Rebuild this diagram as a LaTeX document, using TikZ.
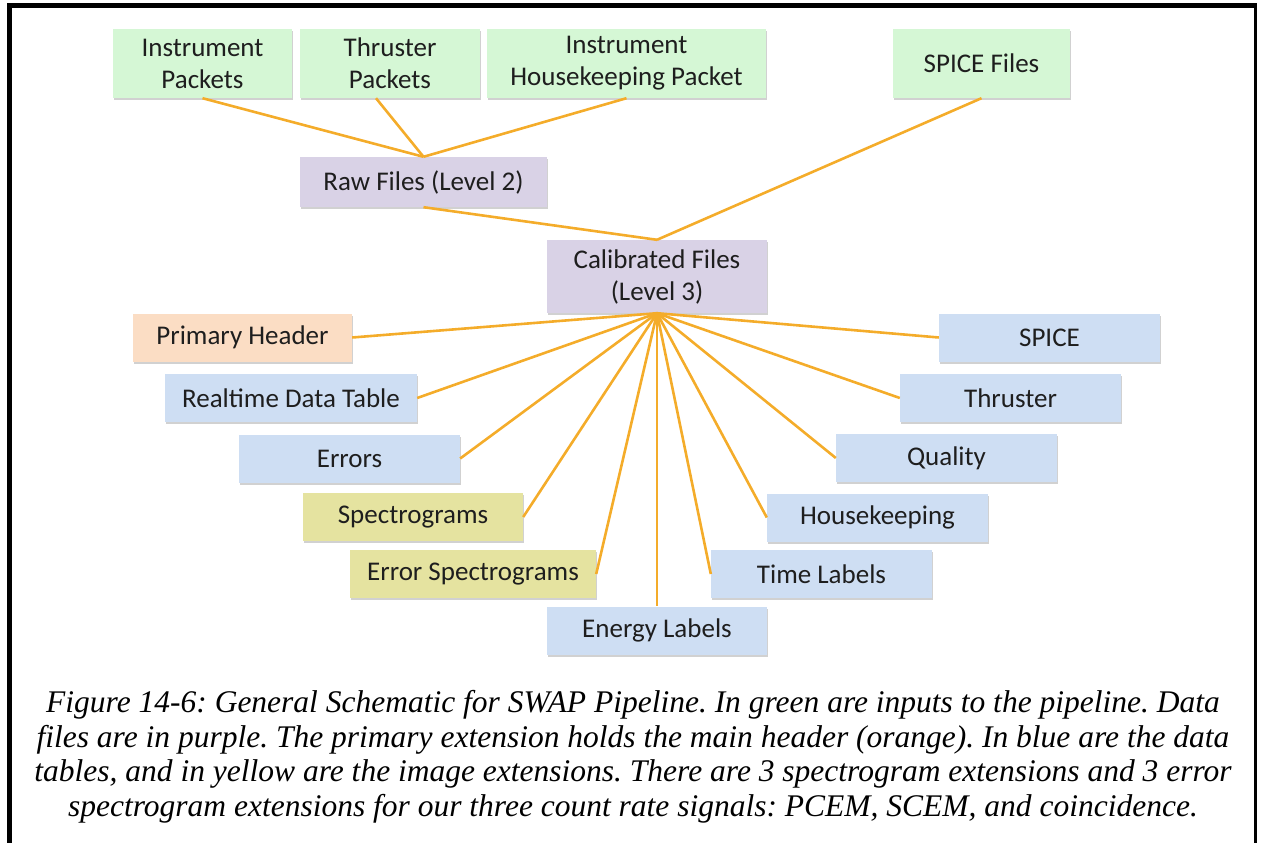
\documentclass[tikz,border=0pt]{standalone}
\usepackage{fontspec}
\setmainfont{Carlito}
\newfontfamily\capfont{Liberation Serif}
\usetikzlibrary{shadows}
\definecolor{gfill}{HTML}{D5F7D5}
\definecolor{pfill}{HTML}{D9D2E6}
\definecolor{ofill}{HTML}{FBDDC4}
\definecolor{bfill}{HTML}{CEDEF3}
\definecolor{yfill}{HTML}{E5E3A0}
\definecolor{conn}{HTML}{F4AC2A}
\definecolor{txt}{HTML}{1E1E1E}
\tikzset{
  box/.style={rectangle, inner sep=0pt, align=center, text=txt,
    font=\fontsize{27}{32}\selectfont, minimum height=48pt,
    drop shadow={shadow xshift=1.2pt, shadow yshift=-2pt, opacity=0.3, fill=black!60}},
  gbox/.style={box, fill=gfill, minimum height=69pt},
  pbox/.style={box, fill=pfill},
  obox/.style={box, fill=ofill},
  bbox/.style={box, fill=bfill},
  ybox/.style={box, fill=yfill},
  link/.style={draw=conn, line width=2.6pt}
}
\begin{document}
\begin{tikzpicture}[x=1pt,y=-1pt]
\useasboundingbox (0,0) rectangle (1262,843);
% frame
\draw[line width=5pt] (9.5,843) -- (9.5,5.5) -- (1257,5.5);
\draw[line width=2.5pt] (1255.5,5) -- (1255.5,843);
% top inputs
\node[gbox, minimum width=179pt] (ip) at (202.5,63.5) {Instrument\\Packets};
\node[gbox, minimum width=180pt] (tp) at (390,63.5) {Thruster\\Packets};
\node[gbox, minimum width=279pt] (ihp) at (626.5,63.5) {Instrument\\Housekeeping Packet};
\node[gbox, minimum width=177pt] (sf) at (981.5,63.5) {SPICE Files};
% data files
\node[pbox, minimum width=247pt, minimum height=50pt] (raw) at (423.5,182) {Raw Files (Level 2)};
\node[pbox, minimum width=220pt, minimum height=73pt] (cal) at (657,276.5) {Calibrated Files\\(Level 3)};
% extensions left
\node[obox, minimum width=219pt] (ph) at (242.5,337.5) {Primary Header};
\node[bbox, minimum width=252pt] (rdt) at (291,398) {Realtime Data Table};
\node[bbox, minimum width=221pt] (err) at (349.5,458.5) {Errors};
\node[ybox, minimum width=220pt] (spec) at (413,517) {Spectrograms};
\node[ybox, minimum width=246pt] (espec) at (473,574) {Error Spectrograms};
\node[bbox, minimum width=220pt] (en) at (657,630.5) {Energy Labels};
% extensions right
\node[bbox, minimum width=221pt] (spice) at (1049.5,337.5) {SPICE};
\node[bbox, minimum width=221pt] (thr) at (1010.5,398) {Thruster};
\node[bbox, minimum width=221pt] (qual) at (946.5,458) {Quality};
\node[bbox, minimum width=221pt] (hk) at (877.5,517.5) {Housekeeping};
\node[bbox, minimum width=221pt] (tl) at (821.5,574) {Time Labels};
% connectors
\draw[link] (ip.south) -- (raw.north);
\draw[link] ([xshift=-14pt]tp.south) -- (raw.north);
\draw[link] (ihp.south) -- (raw.north);
\draw[link] (raw.south) -- (cal.north);
\draw[link] (sf.south) -- (cal.north);
\foreach \n in {ph,rdt,err,spec,espec}
  \draw[link] (cal.south) -- (\n.east);
\draw[link] (cal.south) -- (en.north);
\foreach \n in {spice,thr,qual,hk,tl}
  \draw[link] (cal.south) -- (\n.west);
% caption
\node[font=\capfont\itshape\fontsize{31.5}{34.5}\selectfont\frenchspacing, align=center, text=black] (cap) at (633,757)
 {Figure 14-6: General Schematic for SWAP Pipeline. In green are inputs to the pipeline. Data\\
  files are in purple. The primary extension holds the main header (orange). In blue are the data\\
  tables, and in yellow are the image extensions. There are 3 spectrogram extensions and 3 error\\
  spectrogram extensions for our three count rate signals: PCEM, SCEM, and coincidence.};
\end{tikzpicture}
\end{document}
